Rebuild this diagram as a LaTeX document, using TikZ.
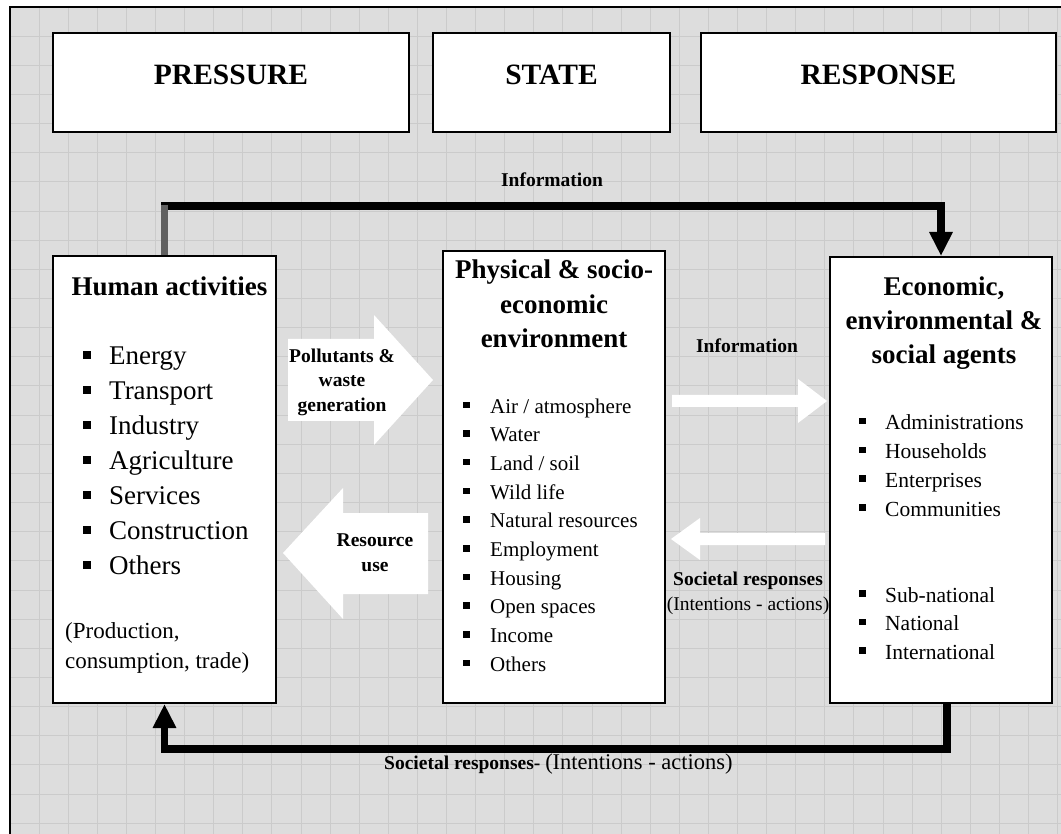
\documentclass[tikz,border=0pt]{standalone}
\usepackage{fontspec}
\setmainfont{Liberation Serif}
\usetikzlibrary{arrows, arrows.meta, positioning}
\definecolor{backg}{RGB}{221,221,221}
\definecolor{gridl}{RGB}{203,203,203}
\definecolor{darkg}{RGB}{96,96,96}
\newcommand{\bul}[3]{\makebox[#1][l]{\rule[#3]{#2}{#2}}}

\begin{document}
\begin{tikzpicture}[x=1pt, y=-1pt]
		% Define elements
		\tikzstyle{head} = [rectangle, draw, fill=white, line width=2pt, inner sep=0pt,
		    minimum height=99pt, text height=21pt, text depth=16pt,
		    font=\bfseries\fontsize{29.5}{32}\selectfont]
		\tikzstyle{block} = [rectangle, draw, fill=white, line width=2pt, inner sep=0pt]
		\tikzstyle{title} = [inner sep=0pt, align=center, anchor=base,
		    font=\bfseries\fontsize{27}{34.5}\selectfont]
		\tikzstyle{list} = [inner sep=0pt, align=left, anchor=base west]
		\tikzstyle{lbl} = [inner sep=0pt, align=center, anchor=base,
		    font=\bfseries\fontsize{19.5}{25}\selectfont]
		\tikzstyle{line} = [draw, line width=7.5pt, -{Triangle[width=22pt, length=24pt]}]
		\tikzstyle{fat} = [fill=white]
		\useasboundingbox (0,0) rectangle (1061,834);
		%% Sheet
		\begin{scope}
		\clip (0,0) rectangle (1061,834);
		\fill[white] (0,0) rectangle (1061,834);
		\fill[backg] (10,7) rectangle (1061,834);
		\foreach \i in {1,...,36}
		    \draw[gridl, line width=1pt] ({10+29.1*\i},7) -- ({10+29.1*\i},834);
		\foreach \j in {1,...,28}
		    \draw[gridl, line width=1pt] (10,{7+29.15*\j}) -- (1061,{7+29.15*\j});
		\draw[line width=2.5pt] (10,850) -- (10,7) -- (1070,7);
		\end{scope}

		%% Headers
		\node [name = pres, head, minimum width=356pt] at (231,82.5) {PRESSURE};
		\node [name = state, head, minimum width=237pt, right=22pt of pres] {STATE};
		\node [name = resp, head, minimum width=355pt, right=29pt of state] {RESPONSE};

		%% Pressure (multi-line nodes sit on their last baseline)
		\node [name = ha, block, minimum width=223pt, minimum height=447pt] at (164.5,479.5) {};
		\node [name = hatitle, title] at (169.5,296) {Human activities};
		\node [name = halist, list, font=\fontsize{27}{35}\selectfont] at (83,574)
		    {\bul{26pt}{7.5pt}{5.5pt}Energy\\ \bul{26pt}{7.5pt}{5.5pt}Transport\\
		     \bul{26pt}{7.5pt}{5.5pt}Industry\\ \bul{26pt}{7.5pt}{5.5pt}Agriculture\\
		     \bul{26pt}{7.5pt}{5.5pt}Services\\ \bul{26pt}{7.5pt}{5.5pt}Construction\\
		     \bul{26pt}{7.5pt}{5.5pt}Others};
		\node [name = hanote, list, font=\fontsize{23}{30}\selectfont] at (65,668)
		    {(Production,\\consumption, trade)};

		%% State
		\node [name = env, block, minimum width=222pt, minimum height=452pt] at (554,477) {};
		\node [name = envtitle, title] at (554,348) {Physical \& socio-\\economic\\environment};
		\node [name = envlist, list, font=\fontsize{21}{28.7}\selectfont] at (463,671.3)
		    {\bul{27pt}{6.5pt}{5pt}Air / atmosphere\\ \bul{27pt}{6.5pt}{5pt}Water\\
		     \bul{27pt}{6.5pt}{5pt}Land / soil\\ \bul{27pt}{6.5pt}{5pt}Wild life\\
		     \bul{27pt}{6.5pt}{5pt}Natural resources\\ \bul{27pt}{6.5pt}{5pt}Employment\\
		     \bul{27pt}{6.5pt}{5pt}Housing\\ \bul{27pt}{6.5pt}{5pt}Open spaces\\
		     \bul{27pt}{6.5pt}{5pt}Income\\ \bul{27pt}{6.5pt}{5pt}Others};

		%% Response
		\node [name = agents, block, minimum width=222pt, minimum height=446pt] at (941,480) {};
		\node [name = agtitle, title] at (944,364) {Economic,\\environmental \&\\social agents};
		\node [name = aglist, list, font=\fontsize{21.5}{28.7}\selectfont] at (859,516)
		    {\bul{26pt}{6.5pt}{5.5pt}Administrations\\ \bul{26pt}{6.5pt}{5.5pt}Households\\
		     \bul{26pt}{6.5pt}{5.5pt}Enterprises\\ \bul{26pt}{6.5pt}{5.5pt}Communities};
		\node [name = aglevel, list, font=\fontsize{21.5}{28.7}\selectfont] at (859,659.4)
		    {\bul{26pt}{6.5pt}{5.5pt}Sub-national\\ \bul{26pt}{6.5pt}{5.5pt}National\\
		     \bul{26pt}{6.5pt}{5.5pt}International};

		% white arrows
		\path [fat] (288,339) -- (374,339) -- (374,315) -- (433,380) -- (374,445) -- (374,421) -- (288,421) -- cycle;
		\path [fat] (428,513) -- (343,513) -- (343,488) -- (283,553) -- (343,619) -- (343,594) -- (428,594) -- cycle;
		\path [fat] (672,395) -- (798,395) -- (798,379) -- (827,401) -- (798,423) -- (798,407) -- (672,407) -- cycle;
		\path [fat] (825,533) -- (700,533) -- (700,518) -- (671,539) -- (700,560) -- (700,545) -- (825,545) -- cycle;
		\node [name = pollut, lbl] at (342,412) {Pollutants \&\\waste\\generation};
		\node [name = resuse, lbl] at (375,571) {Resource\\use};
		\node [name = infomid, lbl] at (747,353) {Information};
		\node [name = socmid, lbl] at (748,610) {Societal responses\\{\mdseries (Intentions - actions)}};

		% arrows
		\path [line] (ha.north) -- ++(0,-49) -| (agents.north);
		\draw [darkg, line width=7pt] (ha.north) -- ++(0,-50);
		\path [line] ([xshift=6pt]agents.south) -- ++(0,45) -| (ha.south);
		\node [name = infotop, lbl] at (552,187) {Information};
		\node [name = socbot, lbl, anchor=base west] at (384,769)
		    {Societal responses- {\mdseries\fontsize{22.5}{25}\selectfont (Intentions - actions)}};
	\end{tikzpicture}
\end{document}
